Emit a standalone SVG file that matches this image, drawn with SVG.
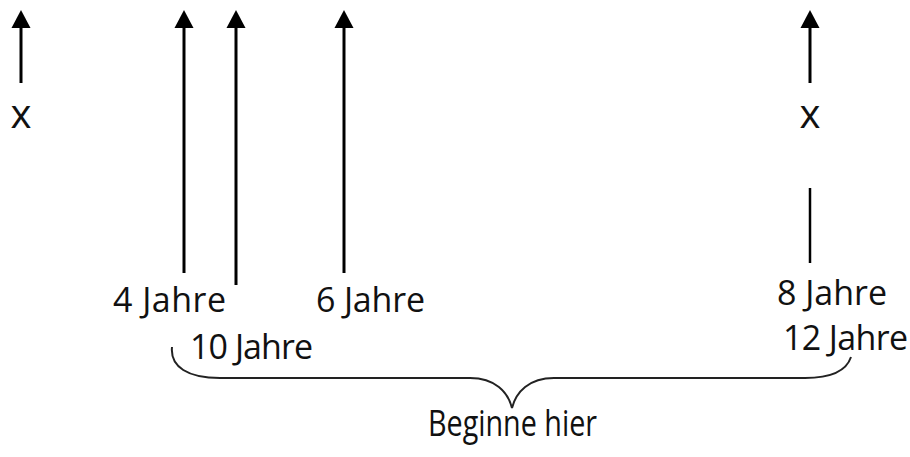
<svg xmlns="http://www.w3.org/2000/svg" width="910" height="457" viewBox="0 0 910 457">
<style>
.t{font-family:"Open Sans","Liberation Sans",sans-serif;font-size:34px;fill:#111}
.x{font-family:"Open Sans","Liberation Sans",sans-serif;font-size:40px;fill:#111}
.ln{stroke:#000;stroke-width:3;fill:none}
.br{stroke:#222;stroke-width:2;fill:none}
.hd{fill:#000}
</style>
<g id="connectors">
<line class="ln" x1="21" y1="83" x2="21" y2="27"/>
<path class="hd" d="M21,10 L30.5,28 L11.5,28 Z"/>
<line class="ln" x1="184" y1="273" x2="184" y2="27"/>
<path class="hd" d="M184,10 L193.5,28 L174.5,28 Z"/>
<line class="ln" x1="236" y1="285" x2="236" y2="27"/>
<path class="hd" d="M236,10 L245.5,28 L226.5,28 Z"/>
<line class="ln" x1="344" y1="273" x2="344" y2="27"/>
<path class="hd" d="M344,10 L353.5,28 L334.5,28 Z"/>
<line class="ln" x1="810" y1="83" x2="810" y2="27"/>
<path class="hd" d="M810,10 L819.5,28 L800.5,28 Z"/>
<line class="ln" x1="810" y1="188" x2="810" y2="263" style="stroke-width:2.5"/>
<path class="br" d="M172,347 C170,367 188,378 220,378 L470,378 C495,378 508,392 512,408 C516,392 529,378 554,378 L805,378 C830,378 846,372 851,357"/>
</g>
<g id="x-left"><text class="x" x="21" y="128" text-anchor="middle">x</text></g>
<g id="x-right"><text class="x" x="810" y="128" text-anchor="middle">x</text></g>
<g id="jahre4"><text class="t" x="113" y="312" textLength="113">4 Jahre</text></g>
<g id="jahre6"><text class="t" x="316" y="312" textLength="109">6 Jahre</text></g>
<g id="jahre10"><text class="t" x="190" y="359" textLength="123">10 Jahre</text></g>
<g id="jahre8"><text class="t" x="777" y="305" textLength="110">8 Jahre</text></g>
<g id="jahre12"><text class="t" x="783" y="350" textLength="125">12 Jahre</text></g>
<g id="beginne"><text class="t" x="428" y="436" style="font-size:36px" textLength="169" lengthAdjust="spacingAndGlyphs">Beginne hier</text></g>
</svg>
